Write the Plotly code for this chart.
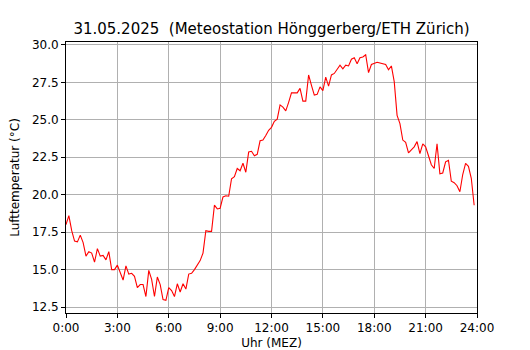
import plotly.graph_objects as go

# Temperature readings every 10 minutes, 0:00 .. 23:50 (°C)
temps = [
    18.0, 18.6, 17.6, 16.9, 16.85, 17.3, 16.8, 15.9, 16.2, 16.1,
    15.5, 16.4, 15.9, 15.95, 15.65, 16.2, 15.0, 15.0, 15.3, 14.8,
    14.3, 15.25, 14.7, 14.75, 14.55, 13.8, 14.0, 14.0, 13.2, 14.95,
    14.35, 13.2, 14.5, 14.0, 13.0, 12.95, 13.8, 13.6, 13.2, 14.05,
    13.5, 14.05, 13.7, 14.7, 14.75, 15.0, 15.3, 15.6, 16.1, 17.6,
    17.55, 17.55, 19.3, 19.05, 19.1, 19.85, 19.93, 19.9, 21.07, 21.2,
    21.75, 21.6, 22.1, 21.5, 22.85, 22.9, 22.6, 22.7, 23.6, 23.65,
    23.95, 24.3, 24.5, 24.9, 25.05, 26.0, 25.85, 25.6, 26.17, 26.8,
    26.8, 26.8, 27.1, 26.25, 26.25, 28.0, 27.3, 26.65, 26.7, 27.2,
    26.95, 27.85, 27.25, 28.0, 28.1, 28.4, 28.65, 28.4, 28.65, 28.6,
    29.05, 29.15, 28.75, 29.15, 29.2, 29.35, 28.15, 28.7, 28.8, 28.85,
    28.8, 28.75, 28.7, 28.35, 28.6, 27.55, 25.3, 24.75, 23.65, 23.5,
    22.8, 23.0, 23.2, 23.55, 22.75, 23.4, 23.2, 22.6, 22.0, 21.75,
    23.4, 21.4, 21.45, 22.2, 22.3, 20.9, 20.8, 20.6, 20.2, 21.35,
    22.1, 21.9, 21.1, 19.3,
]
hours = [i / 6 for i in range(len(temps))]

x_tick_vals = [0, 3, 6, 9, 12, 15, 18, 21, 24]
x_tick_text = ["0:00", "3:00", "6:00", "9:00", "12:00", "15:00", "18:00", "21:00", "24:00"]
y_tick_vals = [12.5, 15.0, 17.5, 20.0, 22.5, 25.0, 27.5, 30.0]

title_text = "31.05.2025  (Meteostation Hönggerberg/ETH Zürich)"
x_label = "Uhr (MEZ)"
y_label = "Lufttemperatur (°C)"

fig = go.Figure()
fig.add_trace(go.Scatter(x=hours, y=temps, mode="lines",
                         line=dict(color="#ff0000", width=1.1),
                         hoverinfo="skip", showlegend=False))

axis_common = dict(
    showline=True, linecolor="black", linewidth=1, mirror=True,
    showgrid=True, gridcolor="#b0b0b0", gridwidth=1,
    ticks="outside", ticklen=4, tickcolor="black", tickwidth=1,
    zeroline=False, automargin=False,
    tickfont=dict(family="DejaVu Sans", size=12, color="black"),
)

# The page body has an 8px default margin, so the figure is sized to fit
# inside the 530x350 window with that offset.
fig.update_layout(
    width=522, height=342,
    margin=dict(l=58, r=53, t=34, b=37, autoexpand=False),
    paper_bgcolor="white", plot_bgcolor="white",
    font=dict(family="DejaVu Sans", color="black"),
    title=dict(text=title_text, x=0.5, xref="paper", xanchor="center",
               y=1 - 21 / 342, yref="container", yanchor="middle",
               automargin=False,
               font=dict(family="DejaVu Sans", size=15, color="black")),
    xaxis=dict(range=[0, 24], tickvals=x_tick_vals, ticktext=x_tick_text,
               title=dict(text=x_label, standoff=7,
                          font=dict(family="DejaVu Sans", size=12)),
               **axis_common),
    yaxis=dict(range=[12.1, 30.2], tickvals=y_tick_vals, tickformat=".1f",
               title=dict(text=y_label, standoff=13,
                          font=dict(family="DejaVu Sans", size=12)),
               **axis_common),
)

fig.write_html("out.html")
